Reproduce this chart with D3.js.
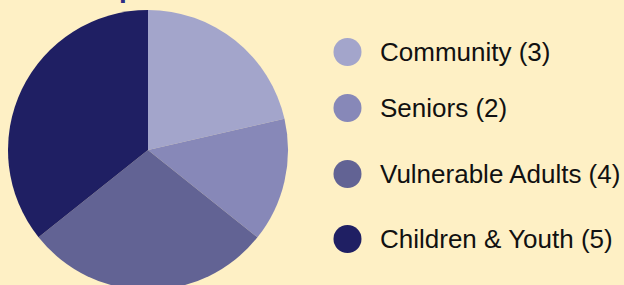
<!DOCTYPE html>
<html>
<head>
<meta charset="utf-8">
<script src="https://cdn.jsdelivr.net/npm/d3@7"></script>
<style>
  html, body { margin: 0; padding: 0; background: #fef0c5; overflow: hidden; }
  text { font-family: "Helvetica Neue", Helvetica, Arial, "Liberation Sans", sans-serif; }
</style>
</head>
<body>
<script>
var width = 624, height = 285;

// data
var groups = ["Community", "Seniors", "Vulnerable Adults", "Children & Youth"];
var counts = [3, 2, 4, 5];
var colors = ["#a3a5cb", "#8788b8", "#626394", "#1f1f63"];

var data = groups.map(function(g, i) { return {name: g, value: counts[i]}; });

var svg = d3.select("body").append("svg")
    .attr("width", width)
    .attr("height", height);

svg.append("rect")
    .attr("width", width)
    .attr("height", height)
    .attr("fill", "#fef0c5");

// title (cut off at the top in the original)
svg.append("text")
    .attr("x", 52)
    .attr("y", -3)
    .attr("fill", "#2b2d84")
    .attr("font-weight", "bold")
    .attr("font-size", 28)
    .text("Groups");

// pie
var color = d3.scaleOrdinal().domain(groups).range(colors);

var pie = d3.pie()
    .sort(null)
    .value(function(d) { return d.value; });

var arc = d3.arc()
    .innerRadius(0)
    .outerRadius(140);

var g = svg.append("g")
    .attr("transform", "translate(148,150)");

g.selectAll("path")
    .data(pie(data))
  .enter().append("path")
    .attr("d", arc)
    .attr("fill", function(d) { return color(d.data.name); });

// legend
var legendY = d3.scaleOrdinal().domain(groups).range([52, 108, 174, 239]);

var legend = svg.append("g")
  .selectAll("g")
    .data(data)
  .enter().append("g")
    .attr("transform", function(d) { return "translate(0," + legendY(d.name) + ")"; });

legend.append("circle")
    .attr("cx", 347.5)
    .attr("cy", 0)
    .attr("r", 14)
    .attr("fill", function(d) { return color(d.name); });

legend.append("text")
    .attr("x", 380)
    .attr("y", 0)
    .attr("dy", "0.34em")
    .attr("font-size", 26)
    .attr("fill", "#111")
    .text(function(d) { return d.name + " (" + d.value + ")"; });
</script>
</body>
</html>
